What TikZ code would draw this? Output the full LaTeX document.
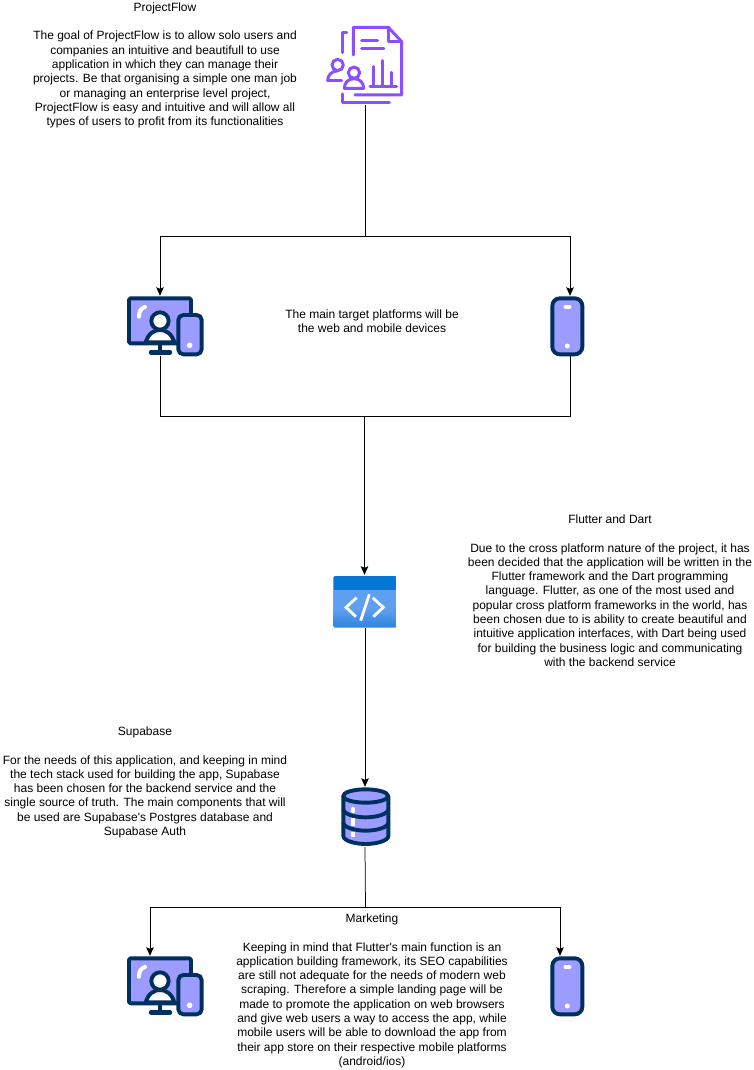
\documentclass[tikz,border=0pt]{standalone}
\usepackage{fontspec}
\setmainfont{Liberation Sans}[Ligatures=TeXOff]
\usetikzlibrary{arrows.meta,calc}
\definecolor{navy}{HTML}{00305F}
\definecolor{lilac}{HTML}{9C9CFF}
\definecolor{violet}{HTML}{8C4FFF}
\definecolor{azuretop}{HTML}{0078D4}
\definecolor{azurelight}{HTML}{5EA0EF}
\definecolor{azuredark}{HTML}{2E83DD}
\tikzset{
  txt/.style={inner sep=0pt,align=center,font=\fontsize{12bp}{14.3bp}\selectfont,text=black},
  iconbox/.style={inner sep=0pt,minimum width=36bp,draw=none,fill=none},
  conn/.style={draw=black,line width=0.75pt},
  arr/.style={conn,-{Stealth[length=8.5bp,width=7.5bp,inset=1.5bp]}},
  zoomed/.style={x=0.3333bp,y=-0.3333bp},
  navyline/.style={draw=navy,line width=3.9bp,line join=round},
  viol/.style={draw=violet,line width=3bp,line cap=round,line join=round},
}
\newcommand{\monitoricon}[4]{%
  \node[iconbox,minimum height=60bp] (#1) at (#2,#4+41) {};
  \begin{scope}[shift={(#3,#4)},zoomed]
    \draw[navyline,fill=lilac,rounded corners=1.5bp] (42,40) rectangle (228,175);
    \draw[white,line width=4bp,line cap=round] (72,95) .. controls (72,78) and (78,70) .. (90,66);
    \draw[navyline,fill=white] (92,172) .. controls (100,145) and (118,135) .. (135,135) .. controls (152,135) and (170,145) .. (178,172) -- cycle;
    \draw[navyline,fill=white] (135,108) circle[radius=26];
    \draw[navy,line width=3.6bp] (135,175) -- (135,202);
    \draw[navy,line width=4.4bp,line cap=round] (108,202) -- (165,202);
    \draw[navyline,fill=lilac,rounded corners=5bp] (190,90) rectangle (260,208);
    \fill[white] (224,181) circle[radius=8.5];
  \end{scope}}
\newcommand{\phoneicon}[4]{%
  \node[iconbox,minimum height=60bp] (#1) at (#2,#4+41) {};
  \begin{scope}[shift={(#3,#4)},zoomed]
    \draw[navyline,fill=lilac,rounded corners=7.5bp] (52,40) rectangle (142,208);
    \draw[white,line width=3.6bp,line cap=round] (91,66) -- (104,66);
    \fill[white] (97,183) circle[radius=7.5];
  \end{scope}}
\begin{document}
\begin{tikzpicture}[x=1bp,y=-1bp]
\useasboundingbox (0,0) rectangle (754,1070);
\fill[white] (0,0) rectangle (754,1070);

\node[iconbox,minimum height=78bp] (project) at (365.5,66) {};
\begin{scope}[shift={(310,10)},zoomed]
  \draw[viol] (135,255) -- (275,255) -- (275,95) -- (235,52) -- (130,52) -- (130,135);
  \draw[viol] (235,52) -- (235,95) -- (275,95);
  \draw[viol] (155,92) -- (203,92);
  \draw[viol] (155,117) -- (222,117);
  \draw[viol] (110,68) -- (97,68) -- (97,128);
  \draw[viol] (97,252) -- (97,278) -- (238,278);
  \draw[viol] (180,230) -- (260,230);
  \draw[viol] (192,170) -- (192,230);
  \draw[viol] (218,152) -- (218,230);
  \draw[viol] (245,187) -- (245,230);
  \draw[viol] (83,165) circle[radius=17];
  \draw[viol] (53,212) .. controls (53,195) and (65,184) .. (83,182);
  \draw[viol] (53,212) -- (95,212);
  \draw[viol] (132,188) circle[radius=17];
  \draw[viol] (103,235) .. controls (103,218) and (115,206) .. (132,206) .. controls (149,206) and (161,218) .. (161,235) -- cycle;
\end{scope}

\monitoricon{mona}{160}{115}{285}
\phoneicon{phonea}{570}{535}{285}
\monitoricon{monb}{150}{115}{945}
\phoneicon{phoneb}{560}{535}{945}

\node[iconbox,minimum height=53bp] (flutter) at (365,601.5) {};
\begin{scope}[shift={(320,565)},zoomed]
  \begin{scope}
    \path[clip,rounded corners=1.5bp] (40,33) rectangle (230,188);
    \shade[top color=azurelight,bottom color=azuredark,middle color=azurelight] (40,75) rectangle (230,188);
    \fill[azuretop] (40,33) rectangle (230,75);
  \end{scope}
  \draw[white,line width=2.8bp,line join=miter] (110,98) -- (78,127) -- (108,155);
  \draw[white,line width=2.8bp,line join=miter] (158,98) -- (190,127) -- (160,155);
  \draw[white,line width=2.8bp] (148,88) -- (122,167);
\end{scope}

\node[iconbox,minimum height=60bp] (db) at (365,817) {};
\begin{scope}[shift={(330,780)},zoomed]
  \draw[navyline,fill=lilac] (40,48) -- (40,168) .. controls (40,182) and (75,192) .. (107,192) .. controls (140,192) and (175,182) .. (175,168) -- (175,48) -- cycle;
  \draw[navyline,fill=lilac] (107,48) ellipse[x radius=67.5,y radius=20];
  \draw[navyline] (40,88) .. controls (40,102) and (75,112) .. (107,112) .. controls (140,112) and (175,102) .. (175,88);
  \draw[navyline] (40,128) .. controls (40,142) and (75,152) .. (107,152) .. controls (140,152) and (175,142) .. (175,128);
  \draw[white,line width=4.2bp,line cap=round] (68,87) -- (68,93);
  \draw[white,line width=4.2bp] (68,113) -- (68,137);
  \draw[white,line width=4.2bp] (68,155) -- (68,170);
\end{scope}

\coordinate (splitTop) at (365.5,236.5);
\coordinate (mergeMid) at (364.5,416.5);
\coordinate (splitLow) at (365.5,907);
\draw[conn] (project.south) -- (splitTop);
\draw[arr] (splitTop) -| (mona.north);
\draw[arr] (splitTop) -| (phonea.north);
\draw[conn] (mona.south) |- (mergeMid);
\draw[conn] (phonea.south) |- (mergeMid);
\draw[arr] (mergeMid) -- (flutter.north -| mergeMid);
\draw[arr] (flutter.south) -- (db.north);
\draw[conn] (db.south) -- (splitLow);
\draw[arr] (splitLow) -| (monb.north);
\draw[arr] (splitLow) -| (phoneb.north);

\node[txt,anchor=north] (t1) at (165,2.5) {ProjectFlow\\[14.3bp]The goal of ProjectFlow is to allow solo users and\\companies an intuitive and beautifull to use\\application in which they can manage their\\projects. Be that organising a simple one man job\\or managing an enterprise level project,\\ProjectFlow is easy and intuitive and will allow all\\types of users to profit from its functionalities};
\node[txt,anchor=north] (t2) at (372,309.5) {The main target platforms will be\\the web and mobile devices};
\node[txt,anchor=north] (t3) at (610,514.5) {Flutter and Dart\\[14.3bp]Due to the cross platform nature of the project, it has\\been decided that the application will be written in the\\Flutter framework and the Dart programming\\language. Flutter, as one of the most used and\\popular cross platform frameworks in the world, has\\been chosen due to is ability to create beautiful and\\intuitive application interfaces, with Dart being used\\for building the business logic and communicating\\with the backend service};
\node[txt,anchor=north] (t4) at (145,726.5) {Supabase\\[14.3bp]For the needs of this application, and keeping in mind\\the tech stack used for building the app, Supabase\\has been chosen for the backend service and the\\single source of truth. The main components that will\\be used are Supabase's Postgres database and\\Supabase Auth};
\node[txt,anchor=north] (t5) at (372,913.5) {Marketing\\[14.3bp]Keeping in mind that Flutter's main function is an\\application building framework, its SEO capabilities\\are still not adequate for the needs of modern web\\scraping. Therefore a simple landing page will be\\made to promote the application on web browsers\\and give web users a way to access the app, while\\mobile users will be able to download the app from\\their app store on their respective mobile platforms\\(android/ios)};
\end{tikzpicture}
\end{document}
